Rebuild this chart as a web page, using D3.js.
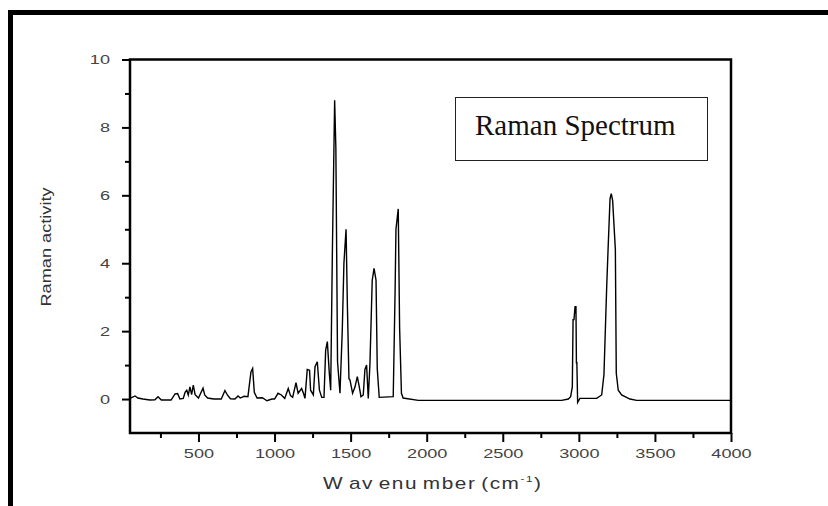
<!DOCTYPE html>
<html>
<head>
    <meta charset="utf-8">
    <title>Raman Spectrum</title>
    <script type="text/javascript" src="https://cdnjs.cloudflare.com/ajax/libs/d3/7.8.5/d3.min.js"></script>
    <style>
        body {
            margin: 0;
            background: #fff;
        }
        svg {
            display: block;
        }
    </style>
</head>
<body>
<svg></svg>
<script type="text/javascript">
    // spectrum: wavenumber (cm-1) and Raman activity
    var wavenumber = [50, 83, 102, 135, 180, 214, 234, 256, 320, 346, 363, 378, 400, 412, 423, 433, 444, 455, 466, 478,
        500, 530, 541, 560, 600, 650, 674, 690, 710, 740, 760, 775, 800, 825, 845, 856, 867, 885, 920, 950,
        983, 1000, 1023, 1045, 1067, 1090, 1105, 1119, 1141, 1155, 1178, 1190, 1200, 1215, 1230, 1237, 1255, 1266, 1281, 1295,
        1310, 1325, 1336, 1347, 1360, 1369, 1380, 1395, 1403, 1414, 1430, 1445, 1456, 1470, 1479, 1489, 1496, 1513, 1529, 1544,
        1557, 1568, 1583, 1594, 1605, 1616, 1627, 1642, 1654, 1667, 1675, 1688, 1780, 1792, 1798, 1813, 1822, 1834, 1845, 1945,
        2887, 2931, 2946, 2957, 2962, 2968, 2975, 2981, 2984, 2987, 2992, 3007, 3117, 3150, 3165, 3183, 3192, 3205, 3213, 3222,
        3240, 3246, 3259, 3281, 3336, 3380, 4000];
    var activity = [0.02, 0.09, 0.03, 0.0, -0.03, -0.02, 0.07, -0.03, -0.03, 0.15, 0.16, 0.0, 0.02, 0.2, 0.26, 0.12, 0.36, 0.13, 0.41, 0.13,
        0.03, 0.32, 0.12, 0.03, 0.0, 0.0, 0.25, 0.12, 0.01, 0.0, 0.09, 0.03, 0.08, 0.07, 0.8, 0.9, 0.2, 0.03, 0.04, -0.05,
        0.0, 0.0, 0.17, 0.12, 0.02, 0.31, 0.1, 0.05, 0.48, 0.17, 0.31, 0.17, 0.02, 0.87, 0.85, 0.26, 0.12, 0.95, 1.1, 0.26,
        0.05, 0.05, 1.44, 1.69, 0.76, 0.26, 4.3, 8.8, 7.4, 1.1, 0.17, 2.0, 4.0, 5.0, 2.7, 0.6, 0.56, 0.17, 0.36, 0.66,
        0.36, 0.07, 0.12, 0.87, 1.0, 0.02, 1.03, 3.5, 3.85, 3.5, 0.9, 0.05, 0.07, 3.1, 5.0, 5.6, 2.1, 0.17, 0.03, -0.04,
        -0.04, 0.0, 0.07, 0.36, 2.34, 2.34, 2.72, 2.72, 1.07, 1.07, -0.1, 0.02, 0.02, 0.12, 0.72, 3.3, 4.4, 5.9, 6.05, 5.85,
        4.4, 0.76, 0.26, 0.12, 0.0, -0.04, -0.04];

    // axis ticks
    var xMajorTicks = [500, 1000, 1500, 2000, 2500, 3000, 3500, 4000];
    var xMinorTicks = [250, 750, 1250, 1750, 2250, 2750, 3250, 3750];
    var yMajorTicks = [0, 2, 4, 6, 8, 10];
    var yMinorTicks = [1, 3, 5, 7, 9];

    // texts
    var xLabel = "W av enu mber (cm";
    var xLabelSup = "-1";
    var yLabel = "Raman activity";
    var legendText = "Raman Spectrum";

    // size of svg and plot box (not called top/left: window.top is taken)
    var w = 828;
    var h = 506;
    var plotLeft = 130;
    var plotRight = 731;
    var plotTop = 59.5;
    var plotBottom = 433;
    var stretch = 1.45;

    var svg = d3.select("svg")
        .attr("width", w)
        .attr("height", h);

    // big outer frame, runs off the right and bottom edges
    svg.append("rect")
        .attr("x", 10.5)
        .attr("y", 12.5)
        .attr("width", 1000)
        .attr("height", 1000)
        .attr("fill", "none")
        .attr("stroke", "#000")
        .attr("stroke-width", 5);

    var x = d3.scaleLinear().domain([50, 4000]).range([plotLeft, plotRight]);
    var y = d3.scaleLinear().domain([-1, 10]).range([plotBottom, plotTop]);

    // minor ticks
    var xMinor = svg.append("g")
        .attr("transform", "translate(0," + plotBottom + ")")
        .call(d3.axisBottom(x).tickValues(xMinorTicks).tickSize(5).tickFormat(""));
    var yMinor = svg.append("g")
        .attr("transform", "translate(" + plotLeft + ",0)")
        .call(d3.axisLeft(y).tickValues(yMinorTicks).tickSize(5).tickFormat(""));

    // major ticks with labels
    var xAxis = svg.append("g")
        .attr("transform", "translate(0," + plotBottom + ")")
        .call(d3.axisBottom(x).tickValues(xMajorTicks).tickSize(9).tickPadding(7).tickFormat(d3.format("d")));
    var yAxis = svg.append("g")
        .attr("transform", "translate(" + plotLeft + ",0)")
        .call(d3.axisLeft(y).tickValues(yMajorTicks).tickSize(8).tickFormat(d3.format("d")));

    [xMinor, yMinor, xAxis, yAxis].forEach(function(g) {
        g.select(".domain").remove();
        g.selectAll("line").attr("stroke", "#000").attr("stroke-width", 2);
    });

    xAxis.selectAll("text")
        .attr("font-family", "Liberation Sans, Arial, sans-serif")
        .attr("font-size", "12.5px")
        .attr("fill", "#444")
        .attr("transform", "scale(" + stretch + ",1)");

    yAxis.selectAll("text")
        .attr("x", -20 / stretch)
        .attr("font-family", "Liberation Sans, Arial, sans-serif")
        .attr("font-size", "12.5px")
        .attr("fill", "#444")
        .attr("transform", "scale(" + stretch + ",1)");

    // spectrum line
    var line = d3.line()
        .x(function(d) { return x(d[0]); })
        .y(function(d) { return y(d[1]); });

    svg.append("path")
        .datum(wavenumber.map(function(v, i) { return [v, activity[i]]; }))
        .attr("d", line)
        .attr("fill", "none")
        .attr("stroke", "#000")
        .attr("stroke-width", 1.4)
        .attr("stroke-linejoin", "miter");

    // plot box
    svg.append("rect")
        .attr("x", plotLeft)
        .attr("y", plotTop)
        .attr("width", plotRight - plotLeft)
        .attr("height", plotBottom - plotTop)
        .attr("fill", "none")
        .attr("stroke", "#000")
        .attr("stroke-width", 2.5);

    // legend box
    svg.append("rect")
        .attr("x", 455.5)
        .attr("y", 97.5)
        .attr("width", 252)
        .attr("height", 63)
        .attr("fill", "#fff")
        .attr("stroke", "#222")
        .attr("stroke-width", 1);

    svg.append("text")
        .attr("x", 475)
        .attr("y", 135)
        .attr("font-family", "Liberation Serif, Times New Roman, serif")
        .attr("font-size", "29px")
        .attr("fill", "#111")
        .text(legendText);

    // x axis title
    var xt = svg.append("text")
        .attr("transform", "translate(323,489) scale(1.3,1)")
        .attr("font-family", "Liberation Sans, Arial, sans-serif")
        .attr("font-size", "16px")
        .attr("letter-spacing", "1.2px")
        .attr("word-spacing", "-2px")
        .attr("fill", "#333");
    xt.append("tspan").text(xLabel);
    xt.append("tspan").attr("font-size", "9px").attr("dy", -7).text(xLabelSup);
    xt.append("tspan").attr("dy", 7).text(")");

    // y axis title
    svg.append("text")
        .attr("transform", "translate(50.7,247) rotate(-90) scale(1.3,1)")
        .attr("text-anchor", "middle")
        .attr("font-family", "Liberation Sans, Arial, sans-serif")
        .attr("font-size", "14px")
        .attr("fill", "#333")
        .text(yLabel);
</script>
</body>
</html>
